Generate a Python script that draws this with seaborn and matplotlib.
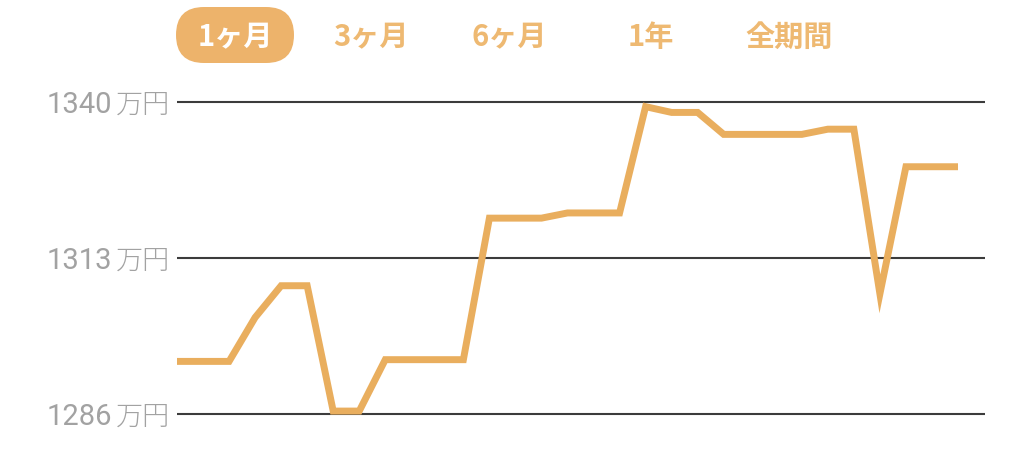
import matplotlib
matplotlib.use("Agg")
import matplotlib.pyplot as plt
import matplotlib.transforms as mtransforms
from matplotlib.patches import FancyBboxPatch
import pandas as pd
import seaborn as sns

# chart data (1 month of daily values in 万円)
days = list(range(31))
assets = [1295.1, 1295.1, 1295.1, 1302.7, 1308.2, 1308.2, 1286.5, 1286.5,
          1295.4, 1295.4, 1295.4, 1295.4, 1319.9, 1319.9, 1319.9, 1320.8,
          1320.8, 1320.8, 1339.2, 1338.2, 1338.2, 1334.4, 1334.4, 1334.4,
          1334.4, 1335.3, 1335.3, 1306.8, 1328.8, 1328.8, 1328.8]
y_ticks = [1340, 1313, 1286]
unit_label = "万円"
tab_labels = ["1ヶ月", "3ヶ月", "6ヶ月", "1年", "全期間"]
active_tab = "1ヶ月"

# styles
LINE_COLOR = "#E9AE5E"
TAB_COLOR = "#EEB972"
PILL_COLOR = "#EDB36B"
LABEL_COLOR = "#A2A2A2"
GRID_COLOR = "#3C3C3C"

sns.set_theme(style="white")
plt.rcParams["font.family"] = ["Noto Sans CJK JP", "DejaVu Sans"]

W, H = 1024, 452
fig = plt.figure(figsize=(W / 100, H / 100), dpi=100)
fig.patch.set_facecolor("white")

# plot area, in pixels
left, right, top, bottom = 177, 985, 91, 427
ax = fig.add_axes([left / W, 1 - bottom / H, (right - left) / W, (bottom - top) / H])

df = pd.DataFrame({"day": days, "asset": assets})
sns.lineplot(data=df, x="day", y="asset", ax=ax, color=LINE_COLOR, linewidth=5)
line = ax.lines[0]
line.set_solid_joinstyle("miter")
line.set_solid_capstyle("butt")
line.set_clip_on(False)

for v in y_ticks:
    ax.axhline(v, color=GRID_COLOR, linewidth=1.5, zorder=0)

# keep the grid lines at the same pixel rows as the reference
px_per_unit = (413 - 102) / (max(y_ticks) - min(y_ticks))
pad = 12 / px_per_unit
ax.set_ylim(min(y_ticks) - pad, max(y_ticks) + pad)
ax.set_xlim(0, (right - left) / ((958 - left) / (len(days) - 1)))

ax.set_xticks([])
ax.set_yticks([])
ax.set_xlabel("")
ax.set_ylabel("")
for s in ax.spines.values():
    s.set_visible(False)
ax.patch.set_alpha(0)

# y labels: number + unit, left of the plot
trans = mtransforms.blended_transform_factory(fig.transFigure, ax.transData)
trans = mtransforms.offset_copy(trans, fig=fig, y=-10, units="dots")
for v in y_ticks:
    ax.text(112 / W, v, str(v), transform=trans, ha="right", va="baseline",
            fontsize=21, color=LABEL_COLOR, family=["Roboto", "DejaVu Sans"],
            clip_on=False)
    ax.text(116 / W, v, unit_label, transform=trans, ha="left", va="baseline",
            fontsize=19.5, color=LABEL_COLOR, fontweight="light", clip_on=False)

# period tabs on top
over = fig.add_axes([0, 0, 1, 1], zorder=-1)
over.set_xlim(0, W)
over.set_ylim(H, 0)
over.axis("off")
tab_x = [235, 371, 509, 651, 789]
for x, lab in zip(tab_x, tab_labels):
    if lab == active_tab:
        pill = FancyBboxPatch((x - 59 + 28, 8 + 28), 118 - 56, 56 - 56,
                              boxstyle="round,pad=28", fc=PILL_COLOR, ec="none")
        over.add_patch(pill)
        color = "white"
    else:
        color = TAB_COLOR
    over.text(x, 37, lab, ha="center", va="center", fontsize=21,
              fontweight="bold", color=color)

fig.savefig("out.png", dpi=100, facecolor="white")
